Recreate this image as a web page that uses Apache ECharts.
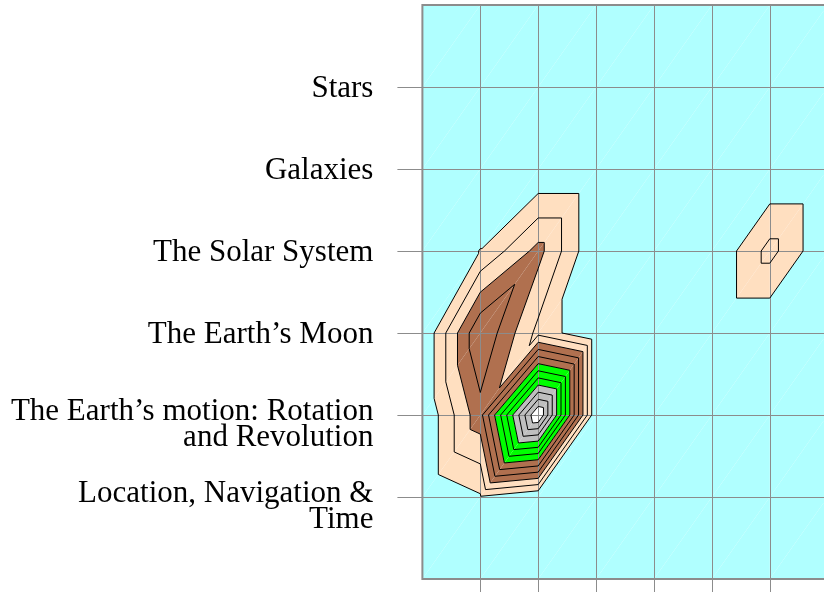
<!DOCTYPE html>
<html>
<head>
<meta charset="utf-8">
<script src="https://cdn.jsdelivr.net/npm/echarts@6/dist/echarts.min.js"></script>
<style>
  html, body { margin: 0; padding: 0; background: #ffffff; }
  #chart { width: 824px; height: 592px; }
</style>
</head>
<body>
<div id="chart"></div>
<script>
// Topics on the vertical axis, bottom to top (tick values 1..6)
const topics = [
  'Location, Navigation &\nTime',
  'The Earth\u2019s motion: Rotation\nand Revolution',
  'The Earth\u2019s Moon',
  'The Solar System',
  'Galaxies',
  'Stars'
];
const topicTicks = [1, 2, 3, 4, 5, 6];
const columnTicks = [1, 2, 3, 4, 5, 6];

// Surface heights at the grid nodes, one row per y = 0..7, columns x = 0..7
const rowBase      = [0, 0,    0,    0, 0, 0, 0,    0];
const rowLocation  = [0, 0.89, 0,    0, 0, 0, 0,    0];
const rowMotion    = [0, 3.64, 13.2, 0, 0, 0, 0,    0];
const rowMoon      = [0, 4.95, 1.7,  0, 0, 0, 0,    0];
const rowSolar     = [0, 1.03, 3.35, 0, 0, 0, 2.35, 0];
const rowGalaxies  = [0, 0,    0,    0, 0, 0, 0,    0];
const rowStars     = [0, 0,    0,    0, 0, 0, 0,    0];
const rowTop       = [0, 0,    0,    0, 0, 0, 0,    0];

// Contour levels and the fill colour of each band between colour breaks
const contourLevels = [1, 2, 3, 4, 5, 6, 7, 8, 9, 10, 11, 12];
const bandBreaks = [1, 3, 6, 9, 12];
const bandColors = ['#b0ffff', '#ffdfc0', '#b0704f', '#00ff00', '#bfbfbf', '#ffffff'];

const heightRows = [rowBase, rowLocation, rowMotion, rowMoon, rowSolar, rowGalaxies, rowStars, rowTop];
const nCols = rowBase.length;
const nRows = heightRows.length;

function node(i, j) { return [i, j, heightRows[j][i]]; }

// Each grid cell is split into two triangles along its rising diagonal
function cellTriangles(i, j) {
  return [
    [node(i, j), node(i + 1, j), node(i + 1, j + 1)],
    [node(i, j), node(i + 1, j + 1), node(i, j + 1)]
  ];
}

// Keep the part of a polygon where f >= 0, interpolating linearly along edges
function clip(poly, f) {
  const out = [];
  for (let k = 0; k < poly.length; k++) {
    const a = poly[k], b = poly[(k + 1) % poly.length];
    const fa = f(a), fb = f(b);
    if (fa >= 0) out.push(a);
    if ((fa >= 0) !== (fb >= 0)) {
      const t = fa / (fa - fb);
      out.push([a[0] + t * (b[0] - a[0]), a[1] + t * (b[1] - a[1]), a[2] + t * (b[2] - a[2])]);
    }
  }
  return out;
}

const cells = [];
for (let j = 0; j < nRows - 1; j++) {
  for (let i = 0; i < nCols - 1; i++) cells.push([i, j]);
}

function renderBands(params, api) {
  const i = api.value(0), j = api.value(1);
  const children = [];
  cellTriangles(i, j).forEach(function (tri) {
    for (let b = 0; b < bandColors.length; b++) {
      const lo = b === 0 ? -Infinity : bandBreaks[b - 1];
      const hi = b === bandBreaks.length ? Infinity : bandBreaks[b];
      let poly = tri;
      if (isFinite(lo)) poly = clip(poly, function (v) { return v[2] - lo; });
      if (poly.length >= 3 && isFinite(hi)) poly = clip(poly, function (v) { return hi - v[2]; });
      if (poly.length >= 3) {
        children.push({
          type: 'polygon',
          shape: { points: poly.map(function (v) { return api.coord([v[0], v[1]]); }) },
          style: { fill: bandColors[b] },
          silent: true
        });
      }
    }
  });
  return { type: 'group', children: children };
}

function renderContours(params, api) {
  const i = api.value(0), j = api.value(1);
  const children = [];
  cellTriangles(i, j).forEach(function (tri) {
    contourLevels.forEach(function (L) {
      const pts = [];
      for (let k = 0; k < 3; k++) {
        const a = tri[k], b = tri[(k + 1) % 3];
        if ((a[2] - L) * (b[2] - L) < 0) {
          const t = (L - a[2]) / (b[2] - a[2]);
          pts.push(api.coord([a[0] + t * (b[0] - a[0]), a[1] + t * (b[1] - a[1])]));
        }
      }
      if (pts.length === 2) {
        children.push({
          type: 'line',
          shape: { x1: pts[0][0], y1: pts[0][1], x2: pts[1][0], y2: pts[1][1] },
          style: { stroke: '#000000', lineWidth: 1 },
          silent: true
        });
      }
    });
  });
  return { type: 'group', children: children };
}

const gridColor = '#8c8c8c';
const chart = echarts.init(document.getElementById('chart'), null, { renderer: 'canvas' });
chart.setOption({
  animation: false,
  grid: {
    left: 422.4, top: 5, width: 405.3, height: 574,
    outerBoundsMode: 'none',
    show: true, borderColor: gridColor, borderWidth: 2,
    backgroundColor: 'transparent', z: 10
  },
  xAxis: {
    type: 'value', min: 0, max: nCols - 1, interval: 1, z: 5,
    axisLine: { show: false },
    axisLabel: { show: false },
    axisTick: { show: true, length: 25, customValues: columnTicks, lineStyle: { color: gridColor, width: 1 } },
    splitLine: { show: true, lineStyle: { color: gridColor, width: 1 } }
  },
  yAxis: {
    type: 'value', min: 0, max: nRows - 1, interval: 1, z: 5,
    axisLine: { show: false },
    axisTick: { show: true, length: 25, customValues: topicTicks, lineStyle: { color: gridColor, width: 1 } },
    axisLabel: {
      customValues: topicTicks,
      margin: 49,
      color: '#000000',
      fontFamily: 'Liberation Serif',
      fontSize: 31,
      lineHeight: 26,
      padding: [4, 0, 0, 0],
      formatter: function (v) {
        const name = topics[Math.round(v) - 1] || '';
        return name.indexOf('\n') >= 0 ? '{gap|}\n' + name : name;
      },
      rich: { gap: { lineHeight: 16, fontSize: 10 } }
    },
    splitLine: { show: true, lineStyle: { color: gridColor, width: 1 } }
  },
  series: [
    { type: 'custom', coordinateSystem: 'cartesian2d', data: cells, renderItem: renderBands, z: 2, silent: true },
    { type: 'custom', coordinateSystem: 'cartesian2d', data: cells, renderItem: renderContours, z: 6, silent: true }
  ]
});
</script>
</body>
</html>
